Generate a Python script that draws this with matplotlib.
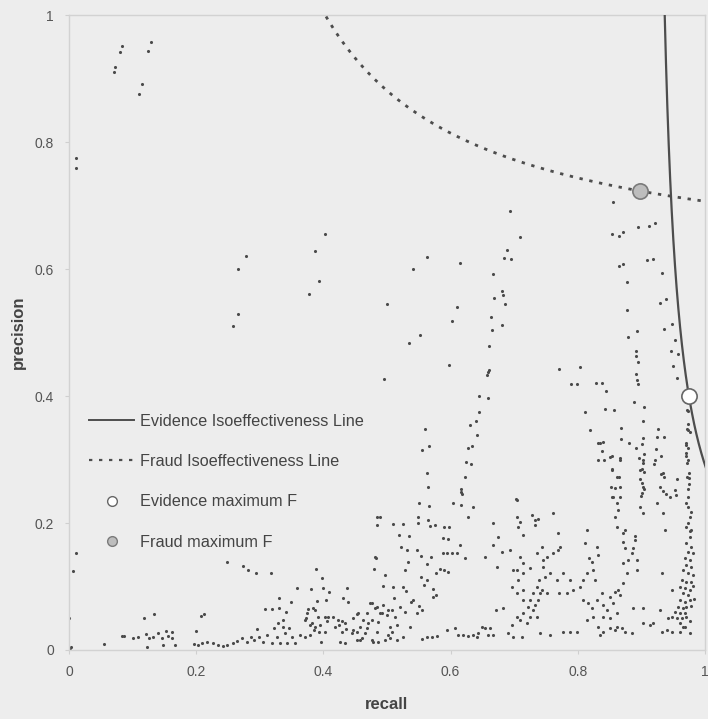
import numpy as np
import matplotlib.pyplot as plt
from matplotlib.lines import Line2D

plt.rcParams['font.family'] = ['Liberation Sans', 'DejaVu Sans']

# (recall, precision) of every classifier run, grouped by area of the plot
upper_pts = [
    (0.011, 0.775), (0.011, 0.759), (0.072, 0.918), (0.071, 0.910), (0.080, 0.942),
    (0.083, 0.951), (0.115, 0.891), (0.110, 0.876), (0.124, 0.943), (0.129, 0.957),
    (0.258, 0.510), (0.266, 0.529), (0.266, 0.600), (0.278, 0.620),
    (0.377, 0.561), (0.393, 0.581), (0.387, 0.629), (0.403, 0.655),
    (0.500, 0.545), (0.563, 0.619), (0.541, 0.600), (0.615, 0.609), (0.610, 0.540),
    (0.602, 0.518), (0.552, 0.496), (0.535, 0.483),
    (0.667, 0.592), (0.668, 0.554), (0.664, 0.524), (0.665, 0.504), (0.660, 0.479),
    (0.597, 0.449),
    (0.693, 0.691), (0.709, 0.650), (0.689, 0.630), (0.684, 0.617), (0.695, 0.616),
    (0.681, 0.565), (0.682, 0.559), (0.686, 0.545), (0.681, 0.512),
    (0.855, 0.706), (0.854, 0.655), (0.865, 0.652), (0.871, 0.658), (0.895, 0.666),
    (0.912, 0.668), (0.921, 0.672), (0.865, 0.605), (0.871, 0.608), (0.909, 0.614),
    (0.918, 0.616), (0.932, 0.594), (0.877, 0.580), (0.929, 0.546), (0.939, 0.553),
    (0.877, 0.535), (0.893, 0.502), (0.948, 0.513), (0.936, 0.506), (0.879, 0.493),
    (0.953, 0.488), (0.947, 0.471), (0.958, 0.466), (0.892, 0.471), (0.892, 0.463),
    (0.895, 0.454), (0.950, 0.447), (0.956, 0.428),
]

mid_pts = [
    (0.660, 0.441), (0.657, 0.433), (0.495, 0.427), (0.645, 0.400), (0.659, 0.397),
    (0.645, 0.375), (0.640, 0.361), (0.630, 0.354), (0.641, 0.339), (0.634, 0.321),
    (0.627, 0.318), (0.624, 0.296), (0.632, 0.293), (0.623, 0.272), (0.616, 0.254),
    (0.618, 0.246), (0.560, 0.348), (0.566, 0.321), (0.555, 0.315), (0.563, 0.279),
    (0.565, 0.257), (0.659, 0.438),
    (0.892, 0.435), (0.893, 0.425), (0.895, 0.419), (0.770, 0.443), (0.803, 0.446),
    (0.789, 0.419), (0.799, 0.419), (0.829, 0.420), (0.838, 0.420), (0.844, 0.408),
    (0.888, 0.391), (0.904, 0.383), (0.811, 0.375), (0.843, 0.380), (0.857, 0.378),
    (0.973, 0.376), (0.903, 0.361), (0.819, 0.346), (0.868, 0.350), (0.926, 0.348),
    (0.972, 0.348), (0.976, 0.343), (0.936, 0.335), (0.868, 0.332), (0.903, 0.334),
    (0.832, 0.326), (0.881, 0.326), (0.901, 0.324), (0.970, 0.323), (0.973, 0.318),
    (0.838, 0.313), (0.892, 0.318), (0.923, 0.317), (0.854, 0.306), (0.866, 0.302),
    (0.841, 0.299), (0.896, 0.302), (0.904, 0.309), (0.931, 0.306), (0.973, 0.299),
    (0.970, 0.310), (0.903, 0.294), (0.920, 0.293), (0.972, 0.294), (0.854, 0.285),
    (0.901, 0.285), (0.904, 0.280), (0.931, 0.277), (0.936, 0.272), (0.975, 0.279),
    (0.975, 0.271), (0.865, 0.272), (0.898, 0.269), (0.956, 0.269), (0.852, 0.257),
    (0.866, 0.257), (0.901, 0.263), (0.904, 0.254), (0.934, 0.250), (0.973, 0.254),
    (0.854, 0.241), (0.866, 0.241), (0.899, 0.243), (0.939, 0.246), (0.954, 0.244),
    (0.973, 0.241), (0.703, 0.238), (0.972, 0.378), (0.973, 0.346), (0.971, 0.326),
    (0.973, 0.225), (0.976, 0.209),
    (0.604, 0.231), (0.616, 0.228), (0.616, 0.249), (0.627, 0.209), (0.635, 0.225),
    (0.550, 0.231), (0.566, 0.227), (0.549, 0.209), (0.564, 0.205), (0.704, 0.236),
    (0.728, 0.213), (0.761, 0.216), (0.704, 0.209), (0.484, 0.209), (0.489, 0.209),
    (0.858, 0.209), (0.863, 0.220), (0.862, 0.231), (0.898, 0.225), (0.903, 0.216),
    (0.901, 0.247), (0.903, 0.257), (0.898, 0.283), (0.903, 0.299), (0.925, 0.231),
    (0.934, 0.216), (0.945, 0.241), (0.929, 0.257), (0.921, 0.299), (0.934, 0.279),
    (0.953, 0.252), (0.925, 0.335), (0.855, 0.241), (0.858, 0.255), (0.862, 0.272),
    (0.854, 0.283), (0.866, 0.299), (0.851, 0.304), (0.832, 0.299), (0.835, 0.326),
    (0.840, 0.328), (0.972, 0.272), (0.975, 0.262), (0.971, 0.232), (0.978, 0.218),
    (0.970, 0.305), (0.974, 0.356), (0.971, 0.390),
]

low_left_pts = [
    (0.011, 0.153), (0.006, 0.124), (0.000, 0.050), (0.000, 0.002), (0.003, 0.005),
    (0.002, 0.003), (0.248, 0.139), (0.274, 0.132), (0.282, 0.126), (0.294, 0.121),
    (0.318, 0.121), (0.388, 0.128), (0.398, 0.113), (0.437, 0.098), (0.358, 0.098),
    (0.380, 0.096), (0.399, 0.098), (0.409, 0.091), (0.330, 0.082), (0.349, 0.075),
    (0.308, 0.064), (0.319, 0.064), (0.330, 0.066), (0.341, 0.060), (0.376, 0.064),
    (0.384, 0.066), (0.390, 0.077), (0.404, 0.079), (0.431, 0.082), (0.438, 0.075),
    (0.453, 0.057), (0.118, 0.050), (0.134, 0.057), (0.212, 0.057), (0.208, 0.054),
    (0.083, 0.022), (0.086, 0.022), (0.101, 0.019), (0.108, 0.020), (0.121, 0.025),
    (0.126, 0.019), (0.132, 0.020), (0.140, 0.027), (0.146, 0.019), (0.152, 0.030),
    (0.156, 0.022), (0.162, 0.028), (0.162, 0.019), (0.148, 0.008), (0.167, 0.008),
    (0.123, 0.005), (0.055, 0.009), (0.200, 0.030), (0.197, 0.009), (0.203, 0.008),
    (0.209, 0.011), (0.217, 0.013), (0.227, 0.011), (0.234, 0.008), (0.242, 0.006),
    (0.248, 0.008), (0.258, 0.011), (0.264, 0.014), (0.272, 0.019), (0.280, 0.013),
    (0.286, 0.020), (0.291, 0.016), (0.299, 0.020), (0.305, 0.013), (0.311, 0.024),
    (0.319, 0.011), (0.327, 0.020), (0.332, 0.011), (0.340, 0.027), (0.343, 0.011),
    (0.351, 0.020), (0.355, 0.011), (0.363, 0.024), (0.371, 0.020), (0.379, 0.024),
    (0.387, 0.036), (0.393, 0.028), (0.396, 0.013), (0.406, 0.046), (0.407, 0.052),
    (0.415, 0.052), (0.425, 0.039), (0.429, 0.046), (0.436, 0.033), (0.445, 0.027),
    (0.434, 0.011), (0.453, 0.016), (0.296, 0.033), (0.322, 0.035), (0.336, 0.036),
    (0.346, 0.035), (0.329, 0.043), (0.336, 0.047), (0.373, 0.050), (0.382, 0.043),
    (0.395, 0.039), (0.423, 0.047), (0.434, 0.043), (0.418, 0.036), (0.429, 0.028),
    (0.426, 0.013), (0.447, 0.050), (0.453, 0.028), (0.454, 0.058), (0.458, 0.016),
    (0.374, 0.058), (0.387, 0.063), (0.392, 0.052), (0.403, 0.052), (0.371, 0.047),
    (0.379, 0.039), (0.385, 0.031), (0.403, 0.028),
]

low_mid_pts = [
    (0.484, 0.197), (0.509, 0.198), (0.525, 0.198), (0.519, 0.181), (0.535, 0.180),
    (0.549, 0.200), (0.568, 0.195), (0.575, 0.197), (0.590, 0.194), (0.597, 0.194),
    (0.588, 0.176), (0.596, 0.175), (0.588, 0.153), (0.595, 0.153), (0.602, 0.153),
    (0.610, 0.153), (0.615, 0.165), (0.623, 0.145), (0.522, 0.162), (0.531, 0.157),
    (0.547, 0.157), (0.553, 0.148), (0.569, 0.146), (0.563, 0.135), (0.583, 0.128),
    (0.577, 0.121), (0.590, 0.126), (0.596, 0.123), (0.533, 0.139), (0.528, 0.126),
    (0.553, 0.115), (0.563, 0.110), (0.558, 0.102), (0.483, 0.145), (0.480, 0.128),
    (0.481, 0.146), (0.497, 0.118), (0.494, 0.101), (0.511, 0.082), (0.509, 0.099),
    (0.525, 0.099), (0.530, 0.093), (0.541, 0.079), (0.550, 0.069), (0.555, 0.063),
    (0.572, 0.083), (0.577, 0.086), (0.572, 0.096), (0.473, 0.074), (0.481, 0.066),
    (0.494, 0.071), (0.489, 0.058), (0.500, 0.055), (0.508, 0.063), (0.513, 0.052),
    (0.520, 0.068), (0.528, 0.060), (0.538, 0.076), (0.547, 0.058), (0.469, 0.058),
    (0.462, 0.047), (0.470, 0.043), (0.458, 0.036), (0.486, 0.044), (0.505, 0.036),
    (0.516, 0.039), (0.536, 0.036), (0.447, 0.031), (0.465, 0.027), (0.484, 0.028),
    (0.502, 0.024), (0.461, 0.019), (0.478, 0.013), (0.486, 0.013), (0.505, 0.019),
    (0.516, 0.016), (0.525, 0.020), (0.555, 0.017), (0.563, 0.020), (0.571, 0.020),
    (0.579, 0.022), (0.594, 0.031), (0.607, 0.035), (0.612, 0.024), (0.619, 0.024),
    (0.627, 0.022), (0.635, 0.024), (0.642, 0.020), (0.649, 0.036), (0.654, 0.035),
    (0.662, 0.035), (0.643, 0.027), (0.659, 0.024), (0.667, 0.024), (0.690, 0.027),
    (0.698, 0.020), (0.712, 0.020), (0.741, 0.027), (0.756, 0.024), (0.777, 0.028),
    (0.788, 0.028), (0.799, 0.028), (0.682, 0.066), (0.671, 0.063), (0.697, 0.039),
    (0.704, 0.052), (0.709, 0.047), (0.714, 0.058), (0.720, 0.043), (0.725, 0.052),
    (0.730, 0.063), (0.736, 0.052), (0.722, 0.068), (0.714, 0.079), (0.725, 0.079),
    (0.733, 0.071), (0.737, 0.079), (0.741, 0.090), (0.730, 0.090), (0.736, 0.099),
    (0.744, 0.094), (0.752, 0.090), (0.739, 0.110), (0.748, 0.115), (0.745, 0.131),
    (0.756, 0.121), (0.767, 0.110), (0.777, 0.121), (0.770, 0.090), (0.788, 0.110),
    (0.783, 0.090), (0.792, 0.094), (0.803, 0.099), (0.714, 0.094), (0.704, 0.090),
    (0.706, 0.110), (0.714, 0.121), (0.704, 0.126), (0.697, 0.099), (0.709, 0.146),
    (0.714, 0.137), (0.725, 0.129), (0.745, 0.142), (0.752, 0.146), (0.736, 0.153),
    (0.744, 0.162), (0.761, 0.153), (0.769, 0.157), (0.673, 0.131), (0.681, 0.154),
    (0.693, 0.157), (0.654, 0.146), (0.698, 0.126), (0.667, 0.200), (0.667, 0.165),
    (0.675, 0.178), (0.706, 0.194), (0.709, 0.202), (0.714, 0.181), (0.733, 0.205),
    (0.737, 0.206), (0.733, 0.197), (0.769, 0.184), (0.772, 0.162), (0.814, 0.189),
    (0.818, 0.145), (0.822, 0.139), (0.824, 0.126), (0.830, 0.162), (0.832, 0.150),
    (0.811, 0.168), (0.808, 0.110), (0.814, 0.121), (0.827, 0.110),
    (0.476, 0.074), (0.484, 0.068), (0.492, 0.058), (0.502, 0.063), (0.476, 0.047),
    (0.469, 0.035), (0.508, 0.028), (0.497, 0.016), (0.476, 0.016),
]

right_pts = [
    (0.808, 0.079), (0.816, 0.074), (0.822, 0.066), (0.830, 0.079), (0.838, 0.090),
    (0.840, 0.071), (0.846, 0.063), (0.851, 0.083), (0.858, 0.091), (0.863, 0.094),
    (0.866, 0.087), (0.855, 0.074), (0.862, 0.058), (0.814, 0.047), (0.824, 0.052),
    (0.840, 0.052), (0.851, 0.050), (0.832, 0.036), (0.840, 0.028), (0.851, 0.035),
    (0.858, 0.031), (0.862, 0.036), (0.869, 0.035), (0.874, 0.028), (0.885, 0.027),
    (0.835, 0.024), (0.903, 0.043), (0.913, 0.039), (0.918, 0.043), (0.932, 0.028),
    (0.940, 0.031), (0.948, 0.028), (0.961, 0.028), (0.965, 0.036), (0.976, 0.027),
    (0.887, 0.066), (0.903, 0.066), (0.929, 0.063), (0.871, 0.106), (0.877, 0.121),
    (0.871, 0.137), (0.879, 0.142), (0.885, 0.153), (0.874, 0.161), (0.887, 0.161),
    (0.871, 0.170), (0.890, 0.173), (0.871, 0.184), (0.890, 0.180), (0.862, 0.194),
    (0.874, 0.189), (0.893, 0.142), (0.893, 0.126), (0.932, 0.121), (0.948, 0.094),
    (0.937, 0.189), (0.971, 0.194), (0.979, 0.189), (0.976, 0.178), (0.971, 0.168),
    (0.979, 0.162), (0.973, 0.154), (0.981, 0.153), (0.969, 0.145), (0.976, 0.142),
    (0.971, 0.134), (0.979, 0.131), (0.965, 0.126), (0.973, 0.121), (0.981, 0.118),
    (0.964, 0.110), (0.971, 0.107), (0.979, 0.107), (0.961, 0.099), (0.969, 0.098),
    (0.976, 0.094), (0.965, 0.090), (0.973, 0.087), (0.961, 0.079), (0.969, 0.076),
    (0.976, 0.079), (0.958, 0.068), (0.965, 0.066), (0.971, 0.068), (0.953, 0.060),
    (0.961, 0.058), (0.969, 0.058), (0.948, 0.052), (0.956, 0.050), (0.964, 0.050),
    (0.942, 0.050), (0.971, 0.052), (0.961, 0.043), (0.969, 0.036), (0.976, 0.046),
    (0.981, 0.100), (0.983, 0.080), (0.978, 0.070), (0.973, 0.200), (0.976, 0.188),
]

# maximum-F operating points and the F-measure weights (beta^2) of each task
evidence_best = (0.975, 0.400)
fraud_best = (0.898, 0.723)
evidence_beta2 = 36.0
fraud_beta2 = 0.28

BG = '#ededed'
DOT = '#4a4a4a'
INK = '#4d4d4d'


def f_measure(r, p, b2):
    return (1 + b2) * p * r / (b2 * p + r)


pts = np.array(upper_pts + mid_pts + low_left_pts + low_mid_pts + right_pts)
recall, precision = pts[:, 0], pts[:, 1]

fig = plt.figure(figsize=(7.08, 7.19), dpi=100, facecolor=BG)
ax = fig.add_axes([0.0975, 0.096, 0.898, 0.883], facecolor=BG)

ax.scatter(recall, precision, s=5, color=DOT, linewidths=0, zorder=2)

# evidence isoeffectiveness line: recall as a function of precision
fe = f_measure(*evidence_best, evidence_beta2)
p_e = np.linspace(0.25, 1.0, 300)
r_e = fe * evidence_beta2 * p_e / ((1 + evidence_beta2) * p_e - fe)
ax.plot(r_e, p_e, color=INK, lw=1.6, zorder=3)

# fraud isoeffectiveness line: precision as a function of recall
ff = f_measure(*fraud_best, fraud_beta2)
r_f = np.linspace(0.3, 1.0, 400)
p_f = ff * r_f / ((1 + fraud_beta2) * r_f - ff * fraud_beta2)
ax.plot(r_f, p_f, color=INK, lw=2.0, ls=(0, (1.2, 2.4)), zorder=3)

ax.plot(*evidence_best, 'o', ms=11, mfc='white', mec='#666666', mew=1.2, zorder=4,
        clip_on=False)
ax.plot(*fraud_best, 'o', ms=11, mfc='#bdbdbd', mec='#7a7a7a', mew=1.2, zorder=4)

ax.set_xlim(0, 1)
ax.set_ylim(0, 1)
ax.set_xticks([0, 0.2, 0.4, 0.6, 0.8, 1])
ax.set_xticklabels(['0', '0.2', '0.4', '0.6', '0.8', '1'])
ax.set_yticks([0, 0.2, 0.4, 0.6, 0.8, 1])
ax.set_yticklabels(['0', '0.2', '0.4', '0.6', '0.8', '1'])
ax.tick_params(labelsize=10, colors='#cfcfcf', labelcolor='#555555', length=3, pad=8)
for s in ax.spines.values():
    s.set_color('#d2d2d2')
    s.set_linewidth(1.0)

ax.set_xlabel('recall', fontsize=12, fontweight='bold', color='#444444', labelpad=13)
ax.set_ylabel('precision', fontsize=12, fontweight='bold', color='#444444', labelpad=6)

handles = [
    Line2D([], [], color=INK, lw=1.4),
    Line2D([], [], color=INK, lw=1.6, ls=(0, (1.5, 3))),
    Line2D([], [], ls='none', marker='o', ms=7, mfc='white', mec='#666666', mew=1.0),
    Line2D([], [], ls='none', marker='o', ms=7, mfc='#bdbdbd', mec='#7a7a7a', mew=1.0),
]
labels = ['Evidence Isoeffectiveness Line', 'Fraud Isoeffectiveness Line',
          'Evidence maximum F', 'Fraud maximum F']
ax.legend(handles, labels, loc='upper left', bbox_to_anchor=(0.021, 0.382),
          frameon=False, fontsize=11.7, labelcolor='#444444', handlelength=2.8,
          handletextpad=0.35, labelspacing=1.55, borderaxespad=0)

fig.savefig('out.png', dpi=100, facecolor=BG)
